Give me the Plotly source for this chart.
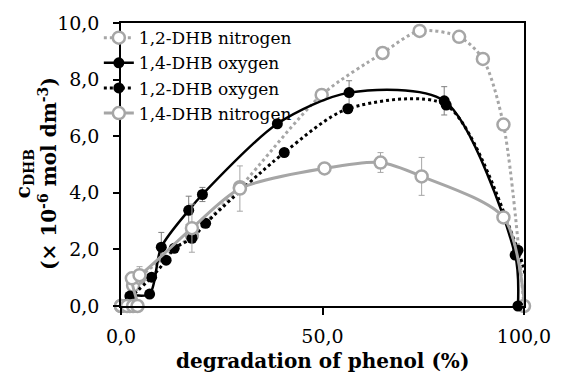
import plotly.graph_objects as go

# ---- data ----
n12_x = [0.0, 2.2, 3.0, 4.5, 17.6, 29.5, 49.8, 64.9, 74.1, 83.9, 89.8, 94.9, 100.0]
n12_y = [0.0, 0.0, 0.72, 1.0, 2.5, 4.2, 7.46, 8.94, 9.72, 9.51, 8.73, 6.41, 0.0]

o14_x = [0.0, 2.2, 7.1, 10.0, 16.8, 20.2, 38.8, 56.6, 80.2, 97.8, 98.5]
o14_y = [0.0, 0.35, 0.42, 2.08, 3.38, 3.94, 6.44, 7.54, 7.25, 1.80, 0.0]
o14_e = [0.0, 0.0, 0.0, 0.52, 0.50, 0.25, 0.0, 0.42, 0.50, 0.0, 0.0]

o12_x = [0.0, 7.6, 11.2, 13.2, 17.6, 21.0, 40.5, 56.3, 80.7, 98.5, 100.5]
o12_y = [0.0, 1.02, 1.62, 2.04, 2.39, 2.92, 5.42, 6.97, 7.10, 1.97, 1.0]

n14_x = [0.0, 1.5, 3.0, 4.1, 2.7, 4.6, 17.6, 29.5, 50.5, 64.4, 74.6, 94.9, 100.2]
n14_y = [0.0, 0.0, 0.0, 0.0, 0.98, 1.09, 2.75, 4.15, 4.86, 5.07, 4.58, 3.13, 0.0]
n14_e = [0.0, 0.0, 0.0, 0.0, 0.0, 0.30, 0.85, 0.80, 0.0, 0.35, 0.67, 0.0, 0.0]

y_ticks = [0, 2, 4, 6, 8, 10]
y_tick_labels = ["0,0", "2,0", "4,0", "6,0", "8,0", "10,0"]
x_ticks = [0, 50, 100]
x_tick_labels = ["0,0", "50,0", "100,0"]

GRAY = "#A6A6A6"
FONT = "DejaVu Serif"

fig = go.Figure()

fig.add_trace(go.Scatter(
    x=n12_x, y=n12_y, name="1,2-DHB nitrogen", mode="lines+markers",
    line=dict(color=GRAY, width=3, dash="dot", shape="spline", smoothing=0.8),
    marker=dict(symbol="circle", size=12, color="white", line=dict(color=GRAY, width=2.5)),
    cliponaxis=False))

fig.add_trace(go.Scatter(
    x=o14_x, y=o14_y, name="1,4-DHB oxygen", mode="lines+markers",
    line=dict(color="black", width=2.5, shape="spline", smoothing=0.8),
    marker=dict(symbol="circle", size=11, color="black"),
    error_y=dict(type="data", array=o14_e, color="#7f7f7f", thickness=1, width=3),
    cliponaxis=False))

fig.add_trace(go.Scatter(
    x=o12_x, y=o12_y, name="1,2-DHB oxygen", mode="lines+markers",
    line=dict(color="black", width=3, dash="dot", shape="spline", smoothing=0.8),
    marker=dict(symbol="circle", size=11, color="black"),
    cliponaxis=False))

fig.add_trace(go.Scatter(
    x=n14_x, y=n14_y, name="1,4-DHB nitrogen", mode="lines+markers",
    line=dict(color=GRAY, width=3, shape="spline", smoothing=0.8),
    marker=dict(symbol="circle", size=12, color="white", line=dict(color=GRAY, width=2.5)),
    error_y=dict(type="data", array=n14_e, color=GRAY, thickness=1, width=3),
    cliponaxis=False))

W, H = 563, 372
L, R, T, B = 121, 32, 22, 66

fig.update_layout(
    width=W, height=H,
    margin=dict(l=L, r=R, t=T, b=B),
    paper_bgcolor="white", plot_bgcolor="white",
    font=dict(family=FONT, color="black", size=19),
    showlegend=True,
    legend=dict(x=-0.055, y=1.01, xanchor="left", yanchor="top",
                bgcolor="rgba(0,0,0,0)", font=dict(size=17, family=FONT),
                itemwidth=30, tracegroupgap=0),
    xaxis=dict(range=[0, 100], tickmode="array", tickvals=x_ticks, ticktext=x_tick_labels,
               showgrid=False, zeroline=False, showline=True, linecolor="black", linewidth=1.5,
               mirror=True, ticks="outside", ticklen=7, tickwidth=1.5, tickcolor="black",
               tickfont=dict(size=19, family=FONT), ticklabelstandoff=5),
    yaxis=dict(range=[0, 10], tickmode="array", tickvals=y_ticks, ticktext=y_tick_labels,
               showgrid=False, zeroline=False, showline=True, linecolor="black", linewidth=1.5,
               mirror=True, ticks="outside", ticklen=6, tickwidth=1.5, tickcolor="black",
               tickfont=dict(size=19, family=FONT), ticklabelstandoff=10),
)

pw, ph = W - L - R, H - T - B

def px(xpix):
    return (xpix - L) / pw

def py(ypix):
    return (H - B - ypix) / ph

fig.add_annotation(
    text="<b>c<sub>DHB</sub><br>(× 10<sup>-6</sup> mol dm<sup>-3</sup>)</b>",
    xref="paper", yref="paper", x=px(35), y=py(173), xanchor="center", yanchor="middle",
    textangle=-90, showarrow=False, font=dict(size=20, family=FONT))

fig.add_annotation(
    text="<b>degradation of phenol (%)</b>",
    xref="paper", yref="paper", x=px(326), y=py(361), xanchor="center", yanchor="middle",
    showarrow=False, font=dict(size=20, family=FONT))

fig.write_html("out.html")
